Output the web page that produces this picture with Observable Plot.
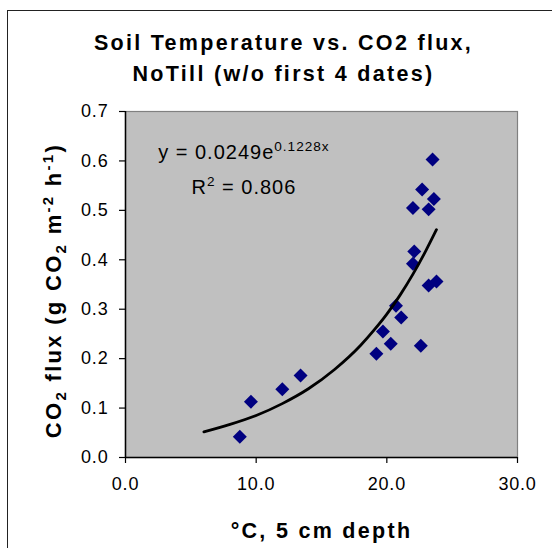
<!DOCTYPE html>
<html>
<head>
<meta charset="utf-8">
<script src="https://cdn.jsdelivr.net/npm/d3@7"></script>
<script src="https://cdn.jsdelivr.net/npm/@observablehq/plot@0.6"></script>
<style>
  html, body { margin: 0; padding: 0; background: #fff; }
  #wrap { position: relative; width: 552px; height: 548px; overflow: hidden; }
  #outer { position: absolute; left: 7px; top: 10px; width: 700px; height: 700px;
           border-left: 1.5px solid #222; border-top: 1.5px solid #222; }
  #chart { position: absolute; left: 0; top: 0; }
</style>
</head>
<body>
<div id="wrap"><div id="outer"></div><div id="chart"></div></div>
<script>
// ---- data ----
const temperature = [8.75, 9.6, 12.0, 13.4, 19.2, 19.7, 20.3, 20.7, 21.1, 22.0, 22.1, 22.0, 22.7, 22.6, 23.2, 23.2, 23.5, 23.6, 23.8];
const co2Flux     = [0.042, 0.113, 0.138, 0.166, 0.210, 0.255, 0.230, 0.307, 0.283, 0.505, 0.417, 0.392, 0.542, 0.226, 0.502, 0.348, 0.603, 0.523, 0.356];

// trend line (exponential fit)
const trendTemp = [6, 8, 10, 12, 14, 16, 18, 19, 20, 21, 22, 23, 23.8];
const trendFlux = [0.052, 0.067, 0.085, 0.109, 0.139, 0.178, 0.227, 0.257, 0.290, 0.328, 0.371, 0.419, 0.461];

const xTicks = [0, 10, 20, 30];
const yTicks = [0, 0.1, 0.2, 0.3, 0.4, 0.5, 0.6, 0.7];

const titleLines = ["Soil Temperature vs. CO2 flux,", "NoTill (w/o first 4 dates)"];
const xTitle = "°C, 5 cm depth";
const yTitle = "CO2 flux (g CO2 m-2 h-1)";
const eqText = "y = 0.0249e0.1228x";
const r2Text = "R2 = 0.806";

// ---- build tables ----
const points = temperature.map((t, i) => ({t, f: co2Flux[i]}));
const trend = trendTemp.map((t, i) => ({t, f: trendFlux[i]}));

// square diamond (Excel style marker)
const diamond = {
  draw(ctx, size) {
    const r = Math.sqrt(size) * 0.62625;
    ctx.moveTo(0, -r); ctx.lineTo(r, 0); ctx.lineTo(0, r); ctx.lineTo(-r, 0); ctx.closePath();
  }
};

const FONT = "'Liberation Sans', Arial, Helvetica, sans-serif";

const chart = Plot.plot({
  width: 552,
  height: 548,
  marginLeft: 125,
  marginRight: 35,
  marginTop: 111,
  marginBottom: 91,
  style: {background: "transparent", fontFamily: FONT, fontSize: "18px", color: "#000"},
  x: {domain: [0, 30]},
  y: {domain: [0, 0.7]},
  marks: [
    Plot.frame({fill: "#c0c0c0", stroke: "#808080", strokeWidth: 1.2}),
    Plot.dot(points, {x: "t", y: "f", symbol: diamond, r: 6.3, fill: "#000080", stroke: "none"}),
    Plot.line(trend, {x: "t", y: "f", stroke: "#000", strokeWidth: 2.8, curve: "monotone-x"}),
    Plot.ruleX([0], {stroke: "#000", strokeWidth: 1.5}),
    Plot.ruleY([0], {stroke: "#000", strokeWidth: 1.5}),
    Plot.axisX(xTicks, {tickFormat: d => d.toFixed(1), tickSize: 6, tickPadding: 14, fontSize: 18, label: null, strokeWidth: 1.2}),
    Plot.axisY(yTicks, {tickFormat: d => d.toFixed(1), tickSize: 6, tickPadding: 11, fontSize: 18, label: null, strokeWidth: 1.2}),
    // chart title
    Plot.text([titleLines.join("\n")], {frameAnchor: "top", dx: -38, dy: -31, lineAnchor: "bottom",
      fontSize: 21.5, fontWeight: "bold", lineHeight: 1.44}),
    // axis titles
    Plot.text([xTitle], {frameAnchor: "bottom", dy: 80, lineAnchor: "bottom", fontSize: 21.5, fontWeight: "bold"}),
    Plot.text([yTitle], {frameAnchor: "left", textAnchor: "middle", dx: -72, dy: 6, rotate: -90, fontSize: 22, fontWeight: "bold"}),
    // trend line equation
    Plot.text([eqText], {x: 2.5, y: 0.603, textAnchor: "start", lineAnchor: "bottom", fontSize: 20}),
    Plot.text([r2Text], {x: 5.05, y: 0.534, textAnchor: "start", lineAnchor: "bottom", fontSize: 20})
  ]
});

document.getElementById("chart").appendChild(chart);

// ---- rich text (sub/superscripts) ----
const NS = "http://www.w3.org/2000/svg";
function rich(plain, parts) {
  for (const t of chart.querySelectorAll("text")) {
    if (t.textContent !== plain) continue;
    t.textContent = "";
    let shift = 0;
    for (const [s, kind] of parts) {
      const ts = document.createElementNS(NS, "tspan");
      const target = kind === "sup" ? -8 : kind === "sub" ? 5 : 0;
      if (target !== shift) ts.setAttribute("dy", target - shift);
      shift = target;
      if (kind) ts.setAttribute("font-size", "0.68em");
      ts.textContent = s;
      t.appendChild(ts);
    }
  }
}
rich(yTitle, [["CO"], ["2", "sub"], [" flux (g CO"], ["2", "sub"], [" m"], ["-2", "sup"], [" h"], ["-1", "sup"], [")"]]);
rich(eqText, [["y = 0.0249e"], ["0.1228x", "sup"]]);
rich(r2Text, [["R"], ["2", "sup"], [" = 0.806"]]);

// letter spacing similar to the original rendering
for (const g of chart.querySelectorAll("g[aria-label]")) {
  const lab = g.getAttribute("aria-label");
  if (lab.includes("tick label")) g.setAttribute("letter-spacing", "0.8px");
}
for (const t of chart.querySelectorAll("text")) {
  const g = t.closest("g");
  const bold = (g && g.getAttribute("font-weight") === "bold") || t.getAttribute("font-weight") === "bold";
  if (bold) t.setAttribute("letter-spacing", "2.3px");
  else if (t.textContent.startsWith("y =") || t.textContent.startsWith("R")) t.setAttribute("letter-spacing", "1px");
}
</script>
</body>
</html>
